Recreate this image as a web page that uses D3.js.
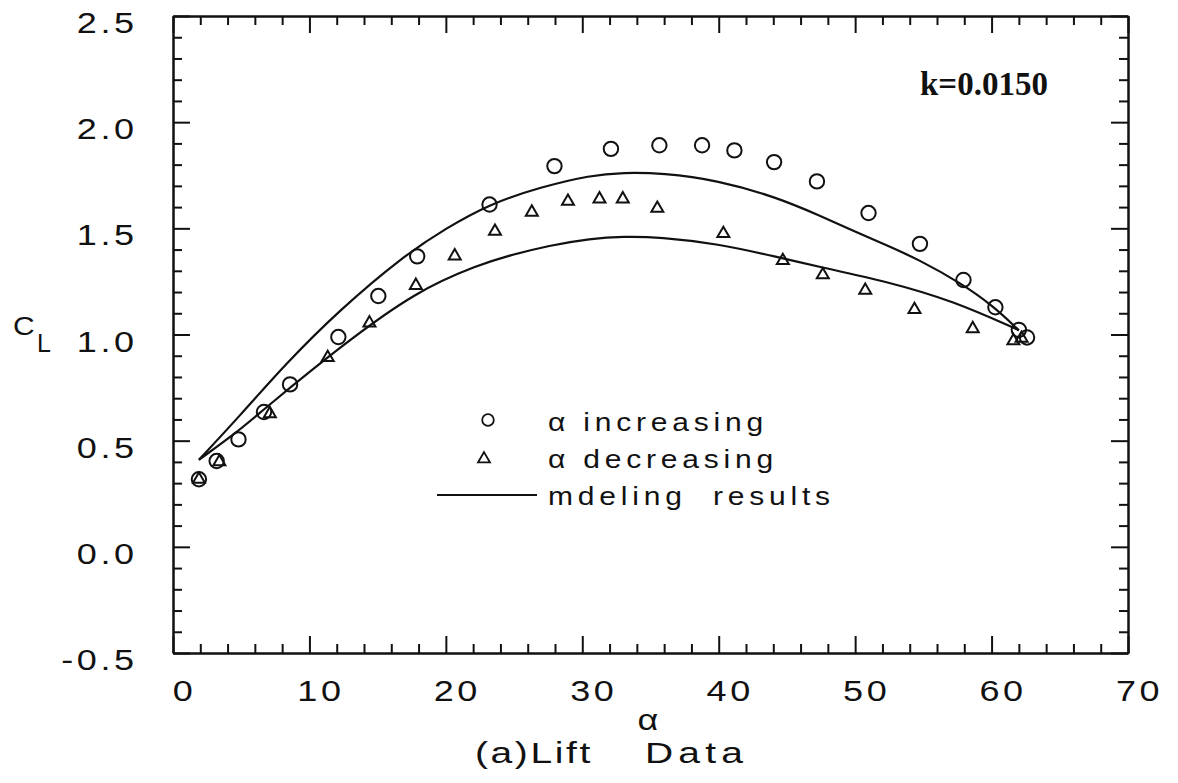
<!DOCTYPE html>
<html>
<head>
<meta charset="utf-8">
<script src="https://cdn.jsdelivr.net/npm/d3@7"></script>
<style>
  body { margin: 0; background: #fff; }
  text { font-family: "Liberation Sans", Arial, Helvetica, sans-serif; fill: #111; white-space: pre; }
</style>
</head>
<body>
<svg id="chart" width="1178" height="783"></svg>
<script>
// measured points, alpha increasing (circles)
const incAlpha = [1.9, 3.2, 4.8, 6.67, 8.58, 12.12, 15.05, 17.9, 23.2, 27.96, 32.1, 35.65, 38.78, 41.15, 44.06, 47.2, 50.98, 54.75, 57.94, 60.28, 62.0, 62.6]
const incCL = [0.318, 0.404, 0.506, 0.635, 0.765, 0.988, 1.181, 1.368, 1.612, 1.793, 1.874, 1.891, 1.891, 1.867, 1.812, 1.721, 1.572, 1.427, 1.257, 1.128, 1.022, 0.986]

// measured points, alpha decreasing (triangles)
const decAlpha = [1.9, 3.4, 7.1, 11.34, 14.4, 17.8, 20.65, 23.6, 26.3, 28.95, 31.26, 32.97, 35.5, 40.34, 44.7, 47.63, 50.74, 54.35, 58.62, 61.6, 62.2]
const decCL = [0.318, 0.40, 0.627, 0.891, 1.054, 1.231, 1.37, 1.486, 1.576, 1.627, 1.638, 1.638, 1.594, 1.475, 1.348, 1.281, 1.208, 1.117, 1.027, 0.970, 0.982]

// modeling results, two branches
const upperAlpha = [1.9, 4.8, 8.3, 12.2, 16.9, 20.0, 23.2, 27.0, 30.6, 33.0, 35.9, 39.9, 44.3, 47.4, 50.0, 52.3, 54.6, 57.8, 60.1, 62.0]
const upperCL = [0.41, 0.61, 0.865, 1.115, 1.37, 1.5, 1.615, 1.695, 1.75, 1.763, 1.76, 1.727, 1.645, 1.56, 1.485, 1.42, 1.355, 1.24, 1.135, 1.02]
const lowerAlpha = [1.9, 4.8, 6.6, 12.2, 17.9, 22.5, 24.5, 27.6, 30.6, 33.0, 35.7, 39.9, 44.3, 47.4, 52.3, 57.2, 62.0]
const lowerCL = [0.41, 0.545, 0.645, 0.94, 1.208, 1.33, 1.37, 1.42, 1.452, 1.462, 1.459, 1.428, 1.365, 1.318, 1.25, 1.158, 1.02]

const xTicks = [0, 10, 20, 30, 40, 50, 60, 70]
const yTicks = [-0.5, 0.0, 0.5, 1.0, 1.5, 2.0, 2.5]
const xMinor = d3.range(0, 71, 2).filter(v => v % 10 !== 0)
const yMinor = d3.range(-5, 26).map(v => v / 10).filter(v => Math.round(v * 10) % 5 !== 0)

const svg = d3.select('#chart')
const plotLeft = 173, plotRight = 1128, plotTop = 16, plotBottom = 653

const x = d3.scaleLinear().domain([0, 70]).range([plotLeft, plotRight])
const y = d3.scaleLinear().domain([-0.5, 2.5]).range([plotBottom, plotTop])

const MAJOR = 17, MINOR = 9

// the axis domains make up the frame, ticks point inward
function styleAxis (g) {
  g.select('.domain').attr('stroke', '#111').attr('stroke-width', 2)
  g.selectAll('.tick line').attr('stroke', '#111').attr('stroke-width', 2)
}

// bottom
svg.append('g').attr('transform', `translate(0,${plotBottom})`)
  .call(d3.axisBottom(x).tickValues(xMinor).tickSizeInner(-MINOR).tickSizeOuter(0).tickFormat(''))
  .call(styleAxis)
svg.append('g').attr('transform', `translate(0,${plotBottom})`)
  .call(d3.axisBottom(x).tickValues(xTicks).tickSizeInner(-MAJOR).tickSizeOuter(0).tickPadding(27).tickFormat(d3.format('d')))
  .call(styleAxis)
  .call(g => g.selectAll('text')
    .attr('y', 27)
    .attr('transform', 'scale(1.2,1)')
    .attr('x', 11 / 1.2)
    .attr('fill', '#111')
    .style('font-size', '30px')
    .style('letter-spacing', '3px'))

// top
svg.append('g').attr('transform', `translate(0,${plotTop})`)
  .call(d3.axisTop(x).tickValues(xMinor).tickSizeInner(-MINOR).tickSizeOuter(0).tickFormat(''))
  .call(styleAxis)
svg.append('g').attr('transform', `translate(0,${plotTop})`)
  .call(d3.axisTop(x).tickValues(xTicks).tickSizeInner(-MAJOR).tickSizeOuter(0).tickFormat(''))
  .call(styleAxis)

// left
svg.append('g').attr('transform', `translate(${plotLeft},0)`)
  .call(d3.axisLeft(y).tickValues(yMinor).tickSizeInner(-MINOR).tickSizeOuter(0).tickFormat(''))
  .call(styleAxis)
svg.append('g').attr('transform', `translate(${plotLeft},0)`)
  .call(d3.axisLeft(y).tickValues(yTicks).tickSizeInner(-MAJOR).tickSizeOuter(0).tickPadding(0).tickFormat(d => d.toFixed(1)))
  .call(styleAxis)
  .call(g => g.selectAll('text')
    .attr('transform', 'scale(1.2,1)')
    .attr('x', -(plotLeft - 134 - 3.6) / 1.2)
    .attr('dy', 16.5)
    .attr('fill', '#111')
    .style('font-size', '30px')
    .style('letter-spacing', '3px'))

// right
svg.append('g').attr('transform', `translate(${plotRight},0)`)
  .call(d3.axisRight(y).tickValues(yMinor).tickSizeInner(-MINOR).tickSizeOuter(0).tickFormat(''))
  .call(styleAxis)
svg.append('g').attr('transform', `translate(${plotRight},0)`)
  .call(d3.axisRight(y).tickValues(yTicks).tickSizeInner(-MAJOR).tickSizeOuter(0).tickFormat(''))
  .call(styleAxis)

// model curves
const line = d3.line()
  .x(d => x(d[0]))
  .y(d => y(d[1]))
  .curve(d3.curveBasis)

const plot = svg.append('g')
plot.selectAll('path.model')
  .data([d3.zip(upperAlpha, upperCL), d3.zip(lowerAlpha, lowerCL)])
  .join('path')
  .attr('class', 'model')
  .attr('d', line)
  .attr('fill', 'none')
  .attr('stroke', '#111')
  .attr('stroke-width', 2.2)

const circleSym = d3.symbol().type(d3.symbolCircle).size(Math.PI * 7.2 * 7.2)
const triSym = d3.symbol().type(d3.symbolTriangle).size(62)

plot.selectAll('path.inc')
  .data(d3.zip(incAlpha, incCL))
  .join('path')
  .attr('class', 'inc')
  .attr('d', circleSym)
  .attr('transform', d => `translate(${x(d[0])},${y(d[1])})`)
  .attr('fill', 'none')
  .attr('stroke', '#111')
  .attr('stroke-width', 2)

plot.selectAll('path.dec')
  .data(d3.zip(decAlpha, decCL))
  .join('path')
  .attr('class', 'dec')
  .attr('d', triSym)
  .attr('transform', d => `translate(${x(d[0])},${y(d[1])})`)
  .attr('fill', 'none')
  .attr('stroke', '#111')
  .attr('stroke-width', 2)

// legend
const legend = svg.append('g')
legend.append('path')
  .attr('d', d3.symbol().type(d3.symbolCircle).size(Math.PI * 5.8 * 5.8))
  .attr('transform', 'translate(488,420)')
  .attr('fill', 'none').attr('stroke', '#111').attr('stroke-width', 1.8)
legend.append('path')
  .attr('d', triSym)
  .attr('transform', 'translate(484,459)')
  .attr('fill', 'none').attr('stroke', '#111').attr('stroke-width', 1.8)
legend.append('line')
  .attr('x1', 437).attr('x2', 537).attr('y1', 495).attr('y2', 495)
  .attr('stroke', '#111').attr('stroke-width', 2)

const legendText = ['α increasing', 'α decreasing', 'mdeling  results']
const legendY = [431, 468, 505]
legend.selectAll('text')
  .data(legendText)
  .join('text')
  .attr('transform', (d, i) => `translate(548,${legendY[i]}) scale(1.2,1)`)
  .style('font-size', '25px')
  .style('letter-spacing', '4px')
  .text(d => d)

// annotation
svg.append('text')
  .attr('x', 920).attr('y', 95)
  .style('font-family', '"Liberation Serif", "Times New Roman", serif')
  .style('font-weight', 'bold')
  .style('font-size', '33px')
  .text('k=0.0150')

// axis titles
const cl = svg.append('g')
cl.append('text').attr('transform', 'translate(13,335) scale(1.2,1)').style('font-size', '25px').text('C')
cl.append('text').attr('transform', 'translate(37,352)').style('font-size', '25px').text('L')

svg.append('text')
  .attr('transform', 'translate(648,730) scale(1.2,1)')
  .attr('text-anchor', 'middle')
  .style('font-size', '30px')
  .text('α')

const caption = svg.append('text')
  .attr('transform', 'translate(475,763) scale(1.3,1)')
  .style('font-size', '30px')
  .style('letter-spacing', '2px')
caption.append('tspan').text('(a)Lift')
caption.append('tspan').attr('x', (645 - 475) / 1.3).style('letter-spacing', '4px').text('Data')
</script>
</body>
</html>
